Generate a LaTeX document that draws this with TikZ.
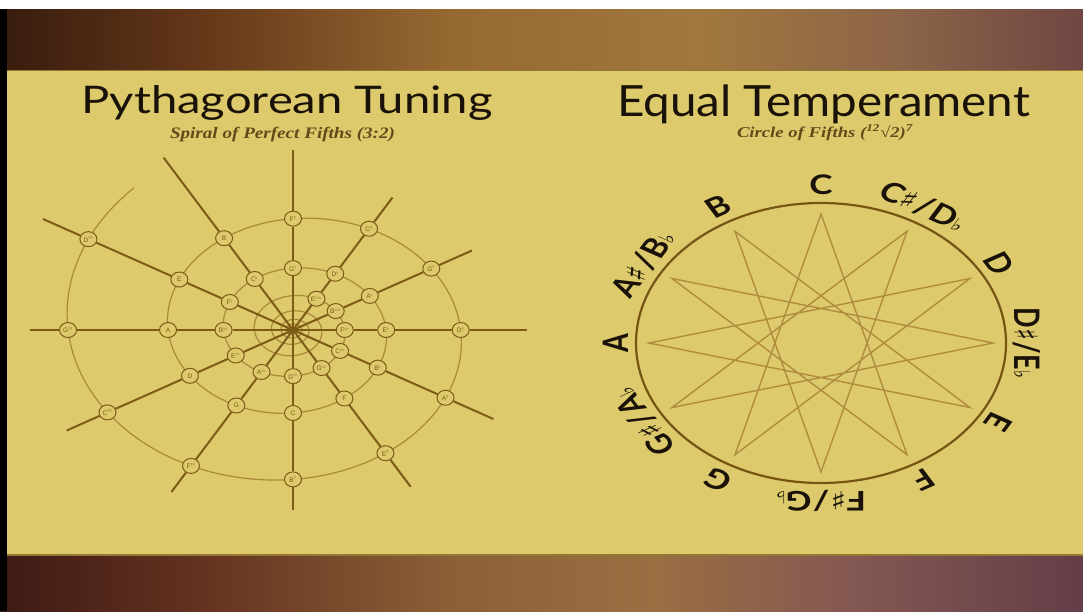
\documentclass[tikz,border=0pt]{standalone}
\usepackage{fontspec}
\usepackage{graphicx}
\setmainfont{Liberation Serif}
\newfontfamily\titlefont{Lato}
\newfontfamily\symfont{DejaVu Sans}
\newfontfamily\notefont{Liberation Sans}
\usetikzlibrary{shapes.geometric}
\definecolor{paper}{RGB}{220,202,108}
\definecolor{paperedge}{RGB}{150,120,50}
\definecolor{spokec}{RGB}{125,90,22}
\definecolor{spiralc}{RGB}{170,137,60}
\definecolor{starc}{RGB}{178,140,62}
\definecolor{ringc}{RGB}{118,84,20}
\definecolor{subc}{RGB}{96,76,26}
\definecolor{ink}{RGB}{26,18,8}
\definecolor{t0}{RGB}{55,28,14}
\definecolor{t1}{RGB}{100,55,25}
\definecolor{t2}{RGB}{150,105,50}
\definecolor{t3}{RGB}{160,120,62}
\definecolor{t4}{RGB}{140,100,72}
\definecolor{t5}{RGB}{112,70,66}
\definecolor{b0}{RGB}{62,26,20}
\definecolor{b1}{RGB}{100,50,32}
\definecolor{b2}{RGB}{140,95,55}
\definecolor{b3}{RGB}{155,110,66}
\definecolor{b4}{RGB}{132,88,82}
\definecolor{b5}{RGB}{100,62,72}
\newcommand\acc[1]{\textsuperscript{\symfont #1}}
\newcommand\shp{{\symfont\fontsize{25}{25}\selectfont ♯}}
\newcommand\flt{{\symfont\fontsize{17}{17}\selectfont ♭}}
\newcommand\sls{\kern1pt/\kern1pt}
\tikzset{
  note/.style={ellipse, draw=spokec, line width=1pt, fill=paper, minimum width=17pt,
    minimum height=15pt, inner sep=0pt, text=spokec, font=\notefont\fontsize{6.5}{6.5}\selectfont},
  spokeline/.style={draw=spokec, line width=2pt},
  spiralline/.style={draw=spiralc, line width=1.2pt},
  starline/.style={draw=starc, line width=1.4pt, line join=miter},
  ringline/.style={draw=ringc, line width=2.2pt},
  keylabel/.style={text=ink, font=\titlefont\bfseries\fontsize{27}{27}\selectfont,
    transform shape, inner sep=0pt},
  titletext/.style={text=ink, font=\titlefont, inner sep=0pt, anchor=base},
  subtext/.style={text=subc, font=\bfseries\itshape, inner sep=0pt, anchor=base},
}
\begin{document}
\begin{tikzpicture}[x=1pt,y=-1pt]
\useasboundingbox (0,0) rectangle (1083,611);
\fill[white] (0,0) rectangle (1083,611);
% wood bands
\shade[left color=t0, right color=t1] (0,9) rectangle (201,70);
\shade[left color=t1, right color=t2] (200,9) rectangle (451,70);
\shade[left color=t2, right color=t3] (450,9) rectangle (701,70);
\shade[left color=t3, right color=t4] (700,9) rectangle (901,70);
\shade[left color=t4, right color=t5] (900,9) rectangle (1083,70);
\shade[left color=b0, right color=b1] (0,555) rectangle (201,611);
\shade[left color=b1, right color=b2] (200,555) rectangle (451,611);
\shade[left color=b2, right color=b3] (450,555) rectangle (651,611);
\shade[left color=b3, right color=b4] (650,555) rectangle (851,611);
\shade[left color=b4, right color=b5] (850,555) rectangle (1083,611);
% panel
\fill[paper] (7,70) rectangle (1083,555);
\draw[paperedge, line width=1.5pt] (7,70.5) -- (1083,70.5);
\draw[paperedge, line width=2pt] (7,554.5) -- (1083,554.5);
\fill[black] (0,9) rectangle (7,611);

% ---------- titles ----------
\node[titletext] (title1) at (287,113)
  {\resizebox{411pt}{\height}{\fontsize{38}{38}\selectfont Pythagorean Tuning}};
\node[subtext] (sub1) at (282.5,138)
  {\resizebox{225pt}{\height}{\fontsize{16}{16}\selectfont Spiral of Perfect Fifths (3:2)}};
\node[titletext] (title2) at (823.5,116)
  {\resizebox{413pt}{\height}{\fontsize{43}{43}\selectfont Equal Temperament}};
\node[subtext] (sub2) at (825,137)
  {\resizebox{176pt}{\height}{\fontsize{15}{15}\selectfont Circle of Fifths (\textsuperscript{12}√2)\textsuperscript{7}}};

% ---------- Pythagorean spiral ----------
\coordinate (O) at (293,330);
\draw[spiralline] plot[domain=-60:16.65, samples=1000, variable=\t]
  ({293+1.3*83*exp(0.04898*\t)*cos(-90-30*\t)}, {330-83*exp(0.04898*\t)*sin(-90-30*\t)});

\foreach \n/\lab in {-17/E\acc{♭♭♭}, -16/B\acc{♭♭♭}, -15/F\acc{♭♭}, -14/C\acc{♭♭},
  -13/G\acc{♭♭}, -12/D\acc{♭♭}, -11/A\acc{♭♭}, -10/E\acc{♭♭}, -9/B\acc{♭♭},
  -8/F\acc{♭}, -7/C\acc{♭}, -6/G\acc{♭}, -5/D\acc{♭}, -4/A\acc{♭}, -3/E\acc{♭},
  -2/B\acc{♭}, -1/F, 0/C, 1/G, 2/D, 3/A, 4/E, 5/B, 6/F\acc{♯}, 7/C\acc{♯},
  8/G\acc{♯}, 9/D\acc{♯}, 10/A\acc{♯}, 11/E\acc{♯}, 12/B\acc{♯}, 13/F\acc{♯♯},
  14/C\acc{♯♯}, 15/G\acc{♯♯}, 16/D\acc{♯♯}} {
  \pgfmathsetmacro\rr{83*exp(0.04898*\n)}
  \pgfmathsetmacro\aa{-90-30*\n}
  \pgfmathtruncatemacro\idx{\n+17}
  \node[note] (q\idx) at ({293+1.3*\rr*cos(\aa)}, {330-\rr*sin(\aa)}) {\lab};
}

\foreach \j/\er in {0/180, 1/187, 2/201, 3/202, 4/222, 5/199, 6/180, 7/153, 8/159, 9/180, 10/178, 11/181} {
  \coordinate (e\j) at ({293+1.3*\er*cos(-90-30*\j)}, {330-\er*sin(-90-30*\j)});
}

\draw[spokeline] (O) -- (q5) -- (q17) -- (q29) -- (e0);
\draw[spokeline] (O) -- (q6) -- (q18) -- (q30) -- (e1);
\draw[spokeline] (O) -- (q7) -- (q19) -- (q31) -- (e2);
\draw[spokeline] (O) -- (q8) -- (q20) -- (q32) -- (e3);
\draw[spokeline] (O) -- (q9) -- (q21) -- (q33) -- (e4);
\draw[spokeline] (O) -- (q10) -- (q22) -- (e5);
\draw[spokeline] (O) -- (q11) -- (q23) -- (e6);
\draw[spokeline] (O) -- (q0) -- (q12) -- (q24) -- (e7);
\draw[spokeline] (O) -- (q1) -- (q13) -- (q25) -- (e8);
\draw[spokeline] (O) -- (q2) -- (q14) -- (q26) -- (e9);
\draw[spokeline] (O) -- (q3) -- (q15) -- (q27) -- (e10);
\draw[spokeline] (O) -- (q4) -- (q16) -- (q28) -- (e11);

% ---------- Equal temperament ----------
\coordinate (C2) at (821,343);
\foreach \i in {0,...,11} {
  \coordinate (v\i) at ({821+172*cos(90-30*\i)}, {343-129*sin(90-30*\i)});
}
\draw[starline] (v0) -- (v5) -- (v10) -- (v3) -- (v8) -- (v1) -- (v6) -- (v11)
  -- (v4) -- (v9) -- (v2) -- (v7) -- cycle;
\draw[ringline] (C2) ellipse [x radius=185, y radius=140];

\begin{scope}[shift={(821,343)}, xscale=1.3]
\foreach \i/\ph/\txt in {0/90/{C}, 1/60/{C\shp\sls D\flt}, 2/30/{D}, 3/0/{D\shp\sls E\flt}, 4/-30/{E},
  5/-60/{F}, 6/-90/{F\shp\sls G\flt}, 7/-120/{G}, 8/-150/{G\shp\sls A\flt}, 9/180/{A},
  10/150/{A\shp\sls B\flt}, 11/120/{B}} {
  \node[keylabel, rotate=\ph-90] (k\i) at ({158*cos(\ph)}, {-158*sin(\ph)}) {\txt};
}
\end{scope}
\end{tikzpicture}
\end{document}
